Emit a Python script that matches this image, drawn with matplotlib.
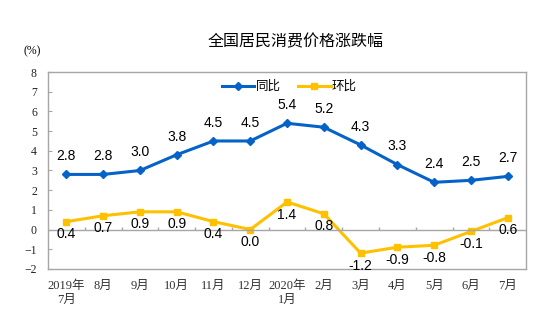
import numpy as np
import matplotlib
matplotlib.use('Agg')
import matplotlib.pyplot as plt

months = ['2019年\n7月', '8月', '9月', '10月', '11月', '12月', '2020年\n1月',
          '2月', '3月', '4月', '5月', '6月', '7月']
yoy = [2.8, 2.8, 3.0, 3.8, 4.5, 4.5, 5.4, 5.2, 4.3, 3.3, 2.4, 2.5, 2.7]
mom = [0.4, 0.7, 0.9, 0.9, 0.4, 0.0, 1.4, 0.8, -1.2, -0.9, -0.8, -0.1, 0.6]

blue = '#0563C8'
yellow = '#FFC000'
serif = ['Liberation Serif', 'Noto Sans CJK SC']
sans = ['Liberation Sans', 'Noto Sans CJK SC']

fig = plt.figure(figsize=(5.52, 3.22), dpi=100)
ax = fig.add_axes([0.087, 0.165, 0.866, 0.611])

x = np.arange(len(months))
ax.plot(x, yoy, color=blue, lw=2.2, marker='D', ms=4.5, label='同比')
ax.plot(x, mom, color=yellow, lw=2.2, marker='s', ms=4.5, label='环比')

for i in range(len(x)):
    ax.annotate(f'{yoy[i]:.1f}', (x[i], yoy[i]), xytext=(0, 8), textcoords='offset points',
                ha='center', va='bottom', fontsize=10, family=sans)
    ax.annotate(f'{mom[i]:.1f}', (x[i], mom[i]), xytext=(0, -4), textcoords='offset points',
                ha='center', va='top', fontsize=10, family=sans)

ax.set_xlim(-0.5, len(months) - 0.5)
ax.set_ylim(-2, 8)
ax.set_yticks(range(-2, 9))
ax.tick_params(axis='y', direction='in', length=3, color='#A6A6A6', labelsize=8.5, pad=8,
               labelcolor='#222222')
for lab in ax.get_yticklabels():
    lab.set_family(serif)

ax.set_xticks(x)
ax.set_xticklabels(months, family=serif, fontsize=9, color='#333333')
ax.tick_params(axis='x', length=0, pad=8)

# zero line with small category ticks
ax.axhline(0, color='#A6A6A6', lw=1)
ax.vlines(x[:-1] + 0.5, 0, 0.12, color='#A6A6A6', lw=1)

for s in ax.spines.values():
    s.set_color('#A6A6A6')
    s.set_linewidth(1)

leg = ax.legend(loc='upper center', bbox_to_anchor=(0.505, 1.0), ncol=2, frameon=False,
                prop={'family': sans, 'size': 9}, handlelength=2.6, columnspacing=1.4,
                handletextpad=0.1, borderaxespad=0.3)

fig.text(0.535, 0.87, '全国居民消费价格涨跌幅', ha='center', va='center',
         fontsize=11.5, family=sans)
fig.text(0.058, 0.84, '(%)', ha='center', va='center', fontsize=8.5, family=serif)

fig.savefig('out.png', dpi=100)
